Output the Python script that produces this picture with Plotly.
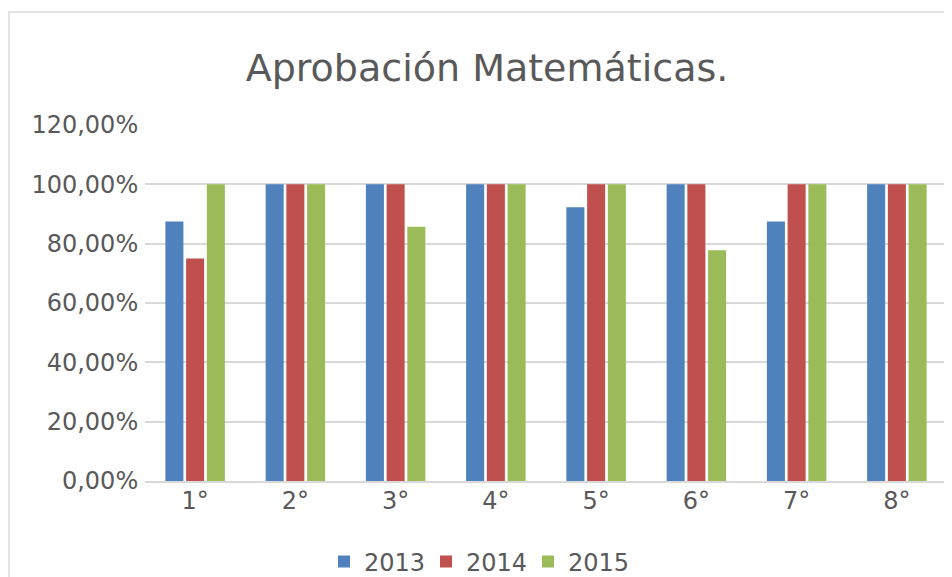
import plotly.graph_objects as go

categories = ["1°", "2°", "3°", "4°", "5°", "6°", "7°", "8°"]
series_names = ["2013", "2014", "2015"]
values_2013 = [0.875, 1.0, 1.0, 1.0, 0.923, 1.0, 0.875, 1.0]
values_2014 = [0.75, 1.0, 1.0, 1.0, 1.0, 1.0, 1.0, 1.0]
values_2015 = [1.0, 1.0, 0.857, 1.0, 1.0, 0.778, 1.0, 1.0]
colors = ["#4F81BD", "#C0504D", "#9BBB59"]

# page has an 8px body margin, so figure coords = window coords - 8
OFF = 8
W, H = 952, 577
L, T = 145 - OFF, 125 - OFF
plot_right, plot_bottom = 947 - OFF, 481 - OFF
R, B = W - plot_right, H - plot_bottom
pw, ph = plot_right - L, plot_bottom - T

fig = go.Figure()
for name, vals, c in zip(series_names, [values_2013, values_2014, values_2015], colors):
    fig.add_trace(go.Bar(x=categories, y=vals, name=name, marker_color=c,
                         marker_line_width=0))

def px_x(X):
    return (X - OFF - L) / pw

def px_y(Y):
    return (plot_bottom - (Y - OFF)) / ph

fig.add_shape(type="rect", xref="paper", yref="paper",
              x0=px_x(9), x1=px_x(975), y0=px_y(620), y1=px_y(12),
              line=dict(color="#d9d9d9", width=1.5), fillcolor="rgba(0,0,0,0)", layer="below")

fig.update_layout(
    width=W, height=H,
    margin=dict(l=L, r=R, t=T, b=B, autoexpand=False),
    paper_bgcolor="white", plot_bgcolor="white",
    font=dict(family="DejaVu Sans", color="#595959", size=24),
    separators=",.",
    title=dict(text="Aprobación Matemáticas.", x=(487 - OFF) / W, xanchor="center",
               y=1 - (68 - OFF) / H, yanchor="middle", font=dict(size=38, color="#595959")),
    bargap=0.38, bargroupgap=0.13,
    showlegend=True,
    legend=dict(orientation="h", x=px_x(477), xanchor="center", y=px_y(562), yanchor="middle",
                font=dict(size=24, color="#595959"), bgcolor="rgba(0,0,0,0)",
                entrywidth=57, entrywidthmode="pixels"),
    yaxis=dict(range=[0, 1.2], dtick=0.2, tickformat=".2%", showgrid=True,
               gridcolor="#d9d9d9", gridwidth=2, zeroline=False, showline=False,
               ticks="outside", ticklen=1, tickcolor="rgba(0,0,0,0)", automargin=False),
    xaxis=dict(showline=True, linecolor="#d9d9d9", linewidth=2, showgrid=False,
               ticks="", ticklabelstandoff=-3, automargin=False),
)

fig.write_html("out.html")
